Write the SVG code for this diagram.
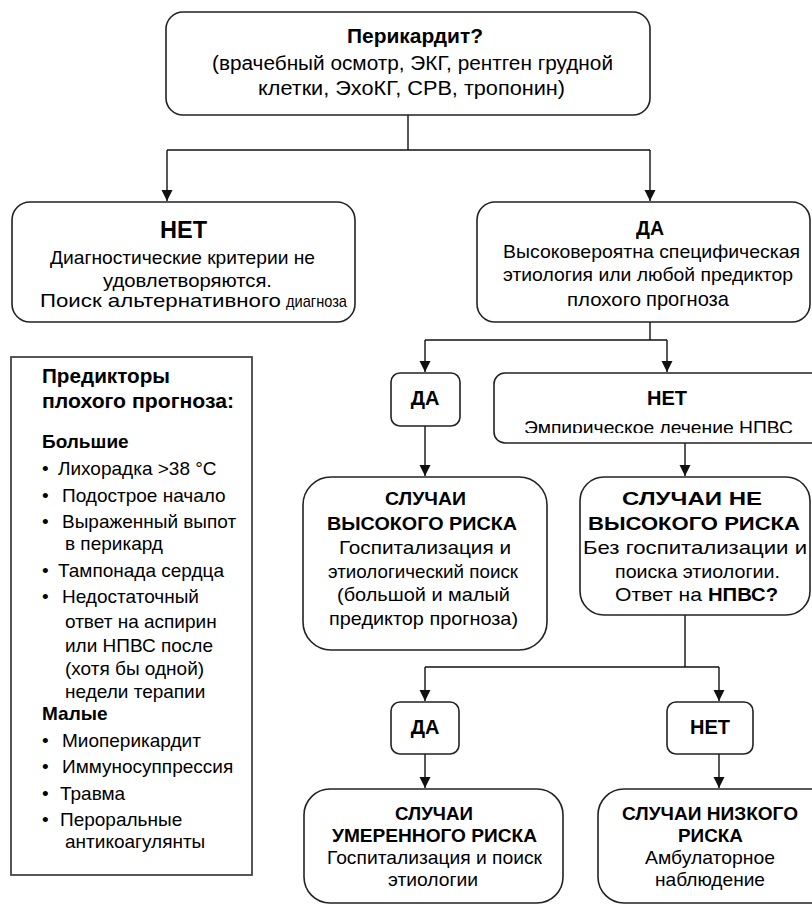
<svg xmlns="http://www.w3.org/2000/svg" width="812" height="905" viewBox="0 0 812 905">
<defs>
<style>
.box{fill:#fff;stroke:#222;stroke-width:1.6}
.panel{fill:#fff;stroke:#444;stroke-width:1.8}
.ln{fill:none;stroke:#111;stroke-width:1.4}
text{font-family:"Liberation Sans",Arial,sans-serif;fill:#000;font-size:19px}
.c{text-anchor:middle}
.b{font-weight:bold}
.big{font-size:24px;font-weight:bold}
</style>
<marker id="ah" markerWidth="12" markerHeight="12" refX="11" refY="5.5" orient="auto" markerUnits="userSpaceOnUse">
<path d="M0,0 L11,5.5 L0,11 Z" fill="#111"/>
</marker>
<clipPath id="cut"><rect x="494" y="373" width="330" height="60"/></clipPath>
</defs>

<g id="connectors">
<path class="ln" d="M408,115 V150"/>
<path class="ln" d="M167,150 H650"/>
<path class="ln" d="M167,150 V201" marker-end="url(#ah)"/>
<path class="ln" d="M650,150 V201" marker-end="url(#ah)"/>
<path class="ln" d="M650,322 V340"/>
<path class="ln" d="M425,340 H667"/>
<path class="ln" d="M425,340 V372" marker-end="url(#ah)"/>
<path class="ln" d="M667,340 V372" marker-end="url(#ah)"/>
<path class="ln" d="M425,426 V476" marker-end="url(#ah)"/>
<path class="ln" d="M685,443 V476" marker-end="url(#ah)"/>
<path class="ln" d="M685,615 V667"/>
<path class="ln" d="M425,667 H719"/>
<path class="ln" d="M425,667 V701" marker-end="url(#ah)"/>
<path class="ln" d="M719,667 V701" marker-end="url(#ah)"/>
<path class="ln" d="M425,754 V788" marker-end="url(#ah)"/>
<path class="ln" d="M719,754 V788" marker-end="url(#ah)"/>
</g>

<g id="pericarditis">
<rect class="box" x="166" y="12" width="484" height="103" rx="17"/>
<text class="b" x="347" y="43" style="font-size:20px" textLength="136" lengthAdjust="spacingAndGlyphs">Перикардит?</text>
<text x="212" y="70" style="font-size:20px" textLength="401" lengthAdjust="spacingAndGlyphs">(врачебный осмотр, ЭКГ, рентген грудной</text>
<text x="258" y="95" style="font-size:20px" textLength="307" lengthAdjust="spacingAndGlyphs">клетки, ЭхоКГ, СРВ, тропонин)</text>
</g>

<g id="no-diagnosis">
<rect class="box" x="12" y="202" width="343" height="120" rx="18"/>
<text class="big" x="160" y="238" textLength="47" lengthAdjust="spacingAndGlyphs">НЕТ</text>
<text x="50" y="264" textLength="265" lengthAdjust="spacingAndGlyphs">Диагностические критерии не</text>
<text x="103" y="287" textLength="169" lengthAdjust="spacingAndGlyphs">удовлетворяются.</text>
<text x="40" y="307" textLength="241" lengthAdjust="spacingAndGlyphs">Поиск альтернативного</text>
<text x="286" y="307" style="font-size:17px" textLength="61" lengthAdjust="spacingAndGlyphs">диагноза</text>
</g>

<g id="yes-diagnosis">
<rect class="box" x="477" y="202" width="333" height="120" rx="18"/>
<text class="b" x="636" y="235" style="font-size:20px" textLength="28" lengthAdjust="spacingAndGlyphs">ДА</text>
<text x="503" y="258" textLength="297" lengthAdjust="spacingAndGlyphs">Высоковероятна специфическая</text>
<text x="503" y="281" textLength="290" lengthAdjust="spacingAndGlyphs">этиология или любой предиктор</text>
<text x="567" y="306" textLength="74" lengthAdjust="spacingAndGlyphs">плохого</text>
<text x="646" y="306" style="font-size:21px" textLength="83" lengthAdjust="spacingAndGlyphs">прогноза</text>
</g>

<g id="predictors">
<rect class="panel" x="11" y="357" width="241" height="518"/>
<text class="b" x="42" y="383" style="font-size:20px" textLength="128" lengthAdjust="spacingAndGlyphs">Предикторы</text>
<text class="b" x="42" y="408" style="font-size:20px" textLength="192" lengthAdjust="spacingAndGlyphs">плохого прогноза:</text>
<text class="b" x="42" y="448">Большие</text>
<text x="42" y="475">•</text><text x="58" y="475">Лихорадка &gt;38 °C</text>
<text x="42" y="502">•</text><text x="62" y="502">Подострое начало</text>
<text x="42" y="528">•</text><text x="62" y="528">Выраженный выпот</text>
<text x="65" y="550">в перикард</text>
<text x="42" y="577">•</text><text x="58" y="577">Тампонада сердца</text>
<text x="42" y="603">•</text><text x="62" y="603">Недостаточный</text>
<text x="65" y="628">ответ на аспирин</text>
<text x="65" y="652">или НПВС после</text>
<text x="65" y="675">(хотя бы одной)</text>
<text x="65" y="698">недели терапии</text>
<text class="b" x="42" y="720">Малые</text>
<text x="42" y="747">•</text><text x="62" y="747">Миоперикардит</text>
<text x="42" y="773">•</text><text x="62" y="773">Иммуносуппрессия</text>
<text x="42" y="800">•</text><text x="60" y="800">Травма</text>
<text x="42" y="826">•</text><text x="60" y="826">Пероральные</text>
<text x="65" y="848">антикоагулянты</text>
</g>

<g id="yes-1">
<rect class="box" x="391" y="373" width="69" height="53" rx="9"/>
<text class="b c" x="425" y="405" style="font-size:20px">ДА</text>
</g>

<g id="no-1">
<rect class="box" x="494" y="373" width="330" height="70" rx="11"/>
<text class="b c" x="667" y="405" style="font-size:20px">НЕТ</text>
<text x="524" y="434" textLength="269" lengthAdjust="spacingAndGlyphs" clip-path="url(#cut)">Эмпирическое лечение НПВС</text>
</g>

<g id="high-risk">
<rect class="box" x="303" y="477" width="244" height="173" rx="28"/>
<text class="b" x="385" y="505" textLength="81" lengthAdjust="spacingAndGlyphs">СЛУЧАИ</text>
<text class="b" x="327" y="530" textLength="190" lengthAdjust="spacingAndGlyphs">ВЫСОКОГО РИСКА</text>
<text x="339" y="554" textLength="172" lengthAdjust="spacingAndGlyphs">Госпитализация и</text>
<text x="328" y="578" textLength="190" lengthAdjust="spacingAndGlyphs">этиологический поиск</text>
<text x="337" y="601" textLength="173" lengthAdjust="spacingAndGlyphs">(большой и малый</text>
<text x="329" y="625" textLength="189" lengthAdjust="spacingAndGlyphs">предиктор прогноза)</text>
</g>

<g id="not-high-risk">
<rect class="box" x="580" y="477" width="230" height="138" rx="24"/>
<text class="b" x="622" y="505" textLength="140" lengthAdjust="spacingAndGlyphs">СЛУЧАИ НЕ</text>
<text class="b" x="588" y="530" textLength="212" lengthAdjust="spacingAndGlyphs">ВЫСОКОГО РИСКА</text>
<text x="583" y="554" textLength="224" lengthAdjust="spacingAndGlyphs">Без госпитализации и</text>
<text x="615" y="578" textLength="165" lengthAdjust="spacingAndGlyphs">поиска этиологии.</text>
<text x="615" y="601" textLength="87" lengthAdjust="spacingAndGlyphs">Ответ на</text>
<text class="b" x="708" y="601" textLength="70" lengthAdjust="spacingAndGlyphs">НПВС?</text>
</g>

<g id="yes-2">
<rect class="box" x="391" y="702" width="68" height="52" rx="9"/>
<text class="b c" x="425" y="734" style="font-size:20px">ДА</text>
</g>

<g id="no-2">
<rect class="box" x="667" y="702" width="86" height="52" rx="9"/>
<text class="b c" x="710" y="734" style="font-size:20px">НЕТ</text>
</g>

<g id="moderate-risk">
<rect class="box" x="304" y="789" width="259" height="114" rx="26"/>
<text class="b" x="395" y="820" textLength="78" lengthAdjust="spacingAndGlyphs">СЛУЧАИ</text>
<text class="b" x="332" y="842" textLength="205" lengthAdjust="spacingAndGlyphs">УМЕРЕННОГО РИСКА</text>
<text x="327" y="864" textLength="215" lengthAdjust="spacingAndGlyphs">Госпитализация и поиск</text>
<text x="388" y="886" textLength="90" lengthAdjust="spacingAndGlyphs">этиологии</text>
</g>

<g id="low-risk">
<rect class="box" x="598" y="789" width="240" height="114" rx="26"/>
<text class="b" x="622" y="820" textLength="176" lengthAdjust="spacingAndGlyphs">СЛУЧАИ НИЗКОГО</text>
<text class="b" x="678" y="842" textLength="65" lengthAdjust="spacingAndGlyphs">РИСКА</text>
<text x="645" y="864" textLength="130" lengthAdjust="spacingAndGlyphs">Амбулаторное</text>
<text x="655" y="886" textLength="110" lengthAdjust="spacingAndGlyphs">наблюдение</text>
</g>
</svg>
